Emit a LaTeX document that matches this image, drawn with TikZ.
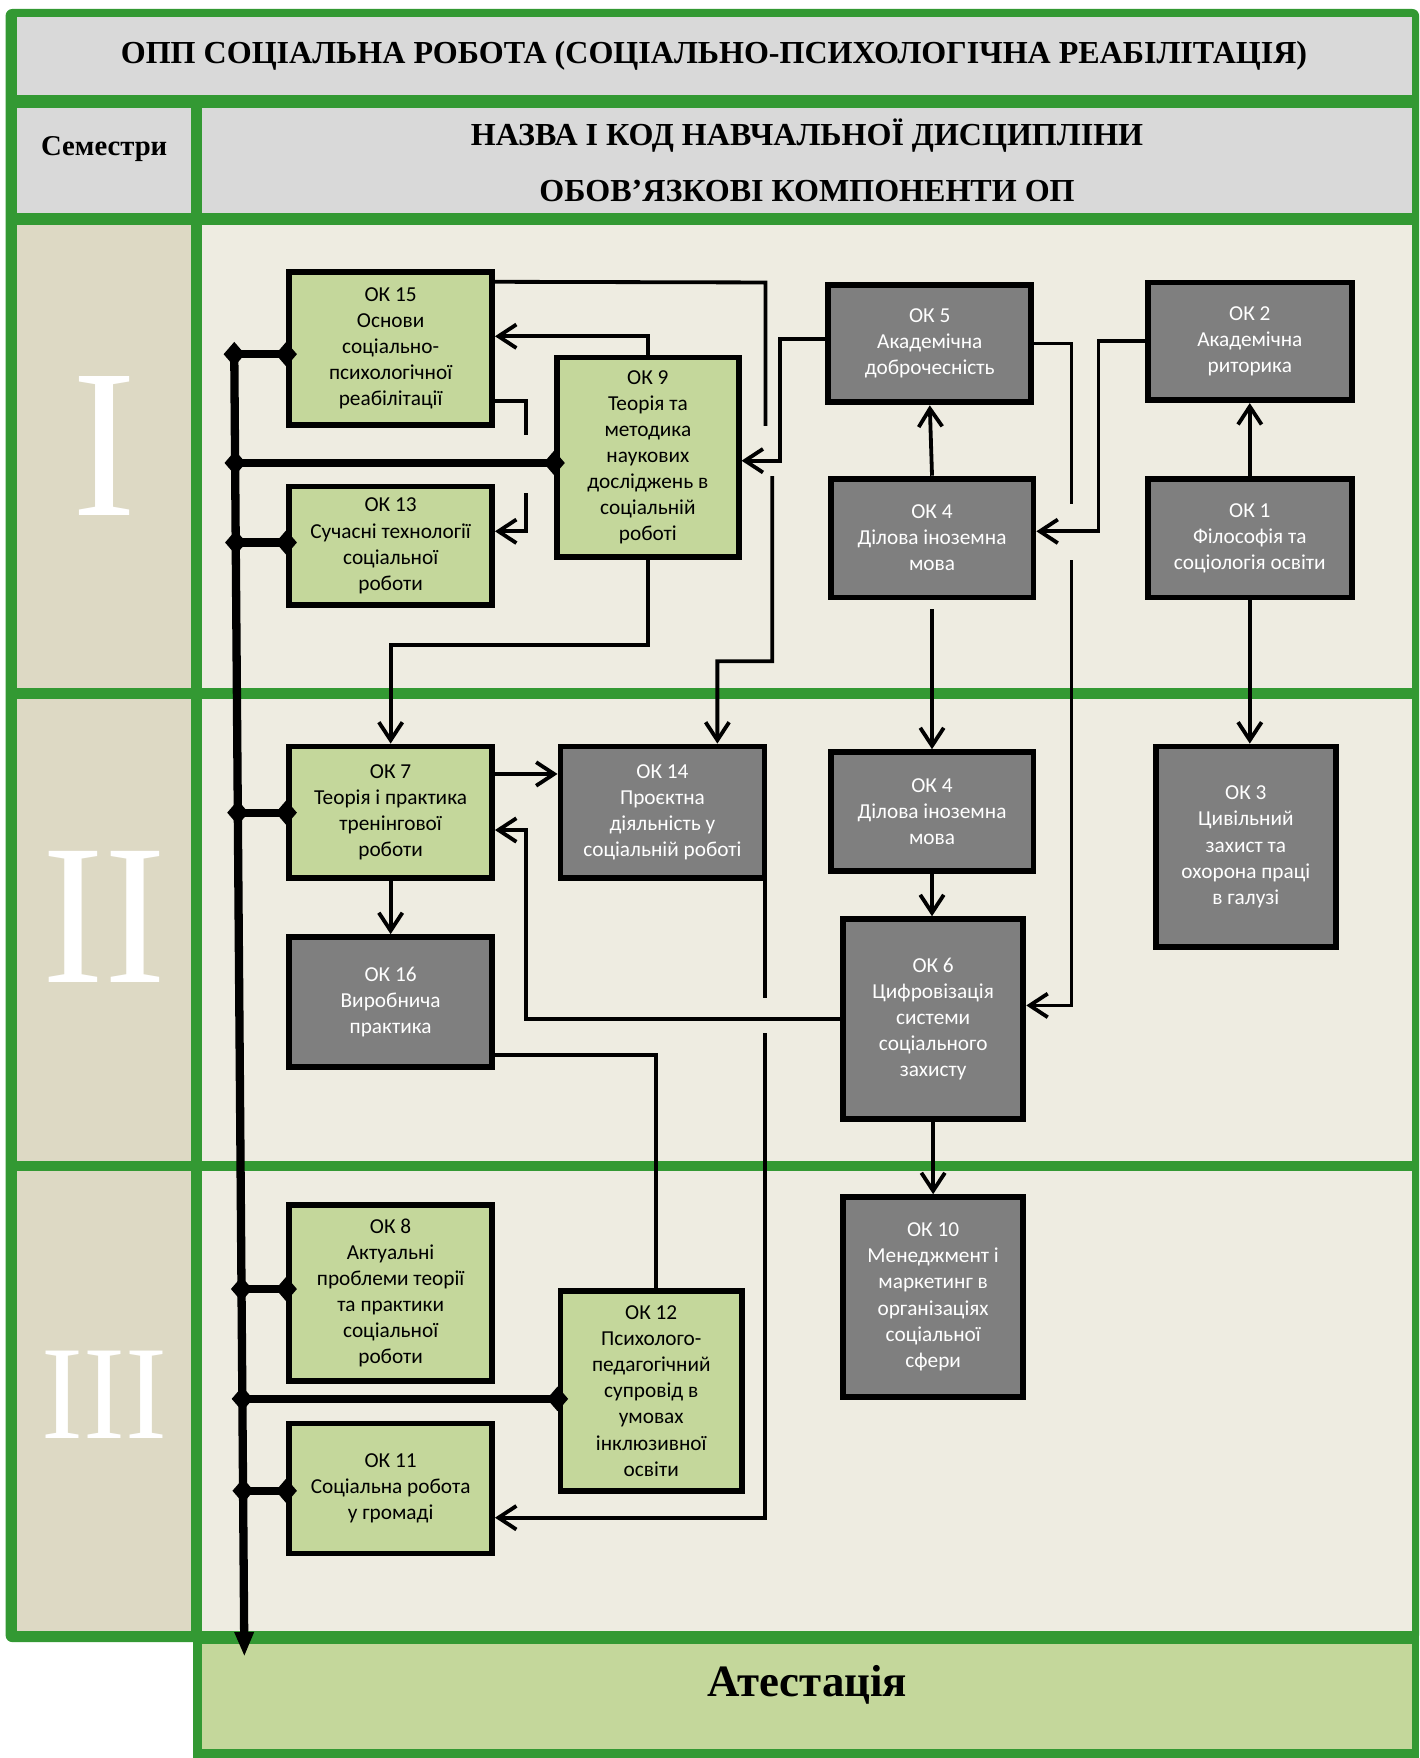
\documentclass[tikz,border=0pt]{standalone}
\usepackage{graphicx}
\usepackage{fontspec}
\setmainfont{Liberation Serif}
\newfontfamily\okfont{Carlito}
\usetikzlibrary{arrows.meta}
\definecolor{framegreen}{RGB}{51,153,51}
\definecolor{headgray}{RGB}{217,217,217}
\definecolor{semcol}{RGB}{221,217,196}
\definecolor{bodycol}{RGB}{238,236,225}
\definecolor{okgreen}{RGB}{196,215,155}
\definecolor{okgray}{RGB}{127,127,127}
\tikzset{
  oknode/.style = {align=center, inner sep=0pt, draw=black, line width=2.6pt,
    font=\okfont\fontsize{9.5}{11.65}\selectfont},
  g/.style = {oknode, fill=okgreen, text=black},% light box
  d/.style = {oknode, fill=okgray, text=white},% dark box
  link/.style = {line width=1.7pt},
  bus/.style = {line width=3.7pt, {Diamond[length=9.5pt,width=11pt]}-{Diamond[length=9.5pt,width=11pt]},
    shorten <=-4.75pt, shorten >=-4.75pt},
  jump/.style = {fill=bodycol},% gap where two links cross
  head/.style = {font=\bfseries\fontsize{14.3}{17}\selectfont}
}

\begin{document}
\begin{tikzpicture}[x=0.5pt, y=-0.5pt, >={Straight Barb[length=8pt,width=10.5pt]}]
\useasboundingbox (0,0) rectangle (1266,1568.4);

% frame and table
\fill[framegreen, rounded corners=3pt] (5,8) rectangle (1266,1465);
\fill[framegreen] (172,1455) rectangle (1266,1568.4);
\fill[headgray] (15,15) rectangle (1260,85);
\fill[headgray] (15,96) rectangle (170,190);
\fill[headgray] (180,96) rectangle (1260,190);
\foreach \top/\bot in {201/614, 624/1036, 1045/1455} {
  \fill[semcol] (15,\top) rectangle (170,\bot);
  \fill[bodycol] (180,\top) rectangle (1260,\bot);
}
\fill[okgreen] (180,1467) rectangle (1260,1560);

\node[head] (title) at (637,50) {ОПП СОЦІАЛЬНА РОБОТА (СОЦІАЛЬНО-ПСИХОЛОГІЧНА РЕАБІЛІТАЦІЯ)};
\node[head, font=\bfseries\fontsize{12.8}{15}\selectfont] (sem) at (93,133) {Семестри};
\node[head] (name) at (720,121) {НАЗВА І КОД НАВЧАЛЬНОЇ ДИСЦИПЛІНИ};
\node[head] (comp) at (720,170) {ОБОВ’ЯЗКОВІ КОМПОНЕНТИ ОП};
\node[font=\bfseries\fontsize{20}{24}\selectfont] (att) at (720,1503) {Атестація};

\node[text=white, inner sep=0pt] (s1) at (93,398) {\resizebox{28.5pt}{62pt}{I}};
\node[text=white, inner sep=0pt] (s2) at (93,818) {\resizebox{55pt}{58.5pt}{II}};
\node[text=white, inner sep=0pt] (s3) at (93,1244) {\resizebox{56pt}{39pt}{III}};

% semester I
\node[g, minimum width=90.5pt, minimum height=68pt] (ok15) at (348.5,311)
  {ОК 15\\Основи\\соціально-\\психологічної\\реабілітації};
\node[g, minimum width=81pt, minimum height=89pt] (ok9) at (578,408)
  {ОК 9\\Теорія та\\методика\\наукових\\досліджень в\\соціальній\\роботі};
\node[g, minimum width=90.5pt, minimum height=53pt] (ok13) at (348.5,487)
  {ОК 13\\Сучасні технології\\соціальної\\роботи};
\node[d, minimum width=90.5pt, minimum height=52.5pt] (ok5) at (829.5,306.5)
  {ОК 5\\Академічна\\доброчесність};
\node[d, minimum width=91pt, minimum height=52.5pt] (ok2) at (1115,304.5)
  {ОК 2\\Академічна\\риторика};
\node[d, minimum width=90.5pt, minimum height=53pt] (ok4a) at (831.5,480)
  {ОК 4\\Ділова іноземна\\мова};
\node[d, minimum width=91pt, minimum height=53pt] (ok1) at (1115,480)
  {ОК 1\\Філософія та\\соціологія освіти};

% semester II
\node[g, minimum width=90.5pt, minimum height=58.5pt] (ok7) at (348.5,724.5)
  {ОК 7\\Теорія і практика\\тренінгової\\роботи};
\node[d, minimum width=91pt, minimum height=58.5pt] (ok14) at (591,724.5)
  {ОК 14\\Проєктна\\діяльність у\\соціальній роботі};
\node[d, minimum width=90.5pt, minimum height=53pt] (ok4b) at (831.5,724)
  {ОК 4\\Ділова іноземна\\мова};
\node[d, minimum width=80.5pt, minimum height=89.5pt] (ok3) at (1111.5,755.5)
  {ОК 3\\Цивільний\\захист та\\охорона праці\\в галузі};
\node[d, minimum width=90.5pt, minimum height=58pt] (ok16) at (348.5,894)
  {ОК 16\\Виробнича\\практика};
\node[d, minimum width=80.5pt, minimum height=89pt] (ok6) at (832.5,909)
  {ОК 6\\Цифровізація\\системи\\соціального\\захисту};

% semester III
\node[d, minimum width=80.5pt, minimum height=89pt] (ok10) at (832.5,1157)
  {ОК 10\\Менеджмент і\\маркетинг в\\організаціях\\соціальної\\сфери};
\node[g, minimum width=90.5pt, minimum height=78.5pt] (ok8) at (348.5,1153.5)
  {ОК 8\\Актуальні\\проблеми теорії\\та практики\\соціальної\\роботи};
\node[g, minimum width=81pt, minimum height=89pt] (ok12) at (581,1241)
  {ОК 12\\Психолого-\\педагогічний\\супровід в\\умовах\\інклюзивної\\освіти};
\node[g, minimum width=90.5pt, minimum height=58pt] (ok11) at (348.5,1328)
  {ОК 11\\Соціальна робота\\у громаді};

% links with a gap
\draw[link,->] ([yshift=-5.5pt]ok15.north east) -- (683,252) -- (683,402) -- (689,402)
  -- (689,590) -- (640,590) -- ([xshift=24.5pt]ok14.north);
\draw[link,->] ([yshift=-23.5pt]ok15.east) -| (469,420) |- ([yshift=6.5pt]ok13.east);
\draw[link,->] (ok5.east) -| (956,600) |- ([yshift=6pt]ok6.east);
\draw[link,->] ([xshift=-1pt]ok14.south east) |- ([yshift=-13pt]ok11.east);
\fill[jump] (674,380) rectangle (693,425);
\fill[jump] (462,388) rectangle (476,440);
\fill[jump] (949,450) rectangle (963,500);
\fill[jump] (672,890) rectangle (690,922);

% other links
\draw[link,->] (ok9.north) |- ([yshift=5.5pt]ok15.east);
\draw[link,->] ([yshift=2pt]ok5.west) -| (696,360) |- ([yshift=-1.5pt]ok9.east);
\draw[link,->] (ok9.south) -- ++(0,76) -| (ok7.north);
\draw[link,->] (ok4a.north) -- (ok5.south);
\draw[link,->] (ok1.north) -- (ok2.south);
\draw[link,->] (ok2.west) -| (980,400) |- ([yshift=3pt]ok4a.east);
\draw[link,->,shorten <=4pt] (ok4a.south) -- (ok4b.north);
\draw[link,->] (ok1.south) -- (ok1.south |- ok3.north);
\draw[link,->] ([yshift=17pt]ok7.east) -- ([yshift=17pt]ok14.west);
\draw[link,->] (ok7.south) -- (ok16.north);
\draw[link,->] (ok4b.south) -- (ok4b.south |- ok6.north);
\draw[link,->] (ok6.west) -| (469,800) |- ([yshift=-8pt]ok7.east);
\draw[link] ([yshift=-23.5pt]ok16.east) -| ([xshift=2pt]ok12.north);
\draw[link,->] (ok6.south) -- (ok10.north);

% bus to attestation
\coordinate (busend) at (218,1478);
\coordinate (j15) at (209,316);
\coordinate (j9) at (209.8,413);
\coordinate (j13) at (210.3,484);
\coordinate (j7) at (212.2,725);
\coordinate (j8) at (215.5,1150);
\coordinate (j12) at (216.2,1248);
\coordinate (j11) at (216.9,1330);
\draw[line width=3.7pt, -{Triangle[length=11pt,width=8pt]}] (j15) -- (busend);
\foreach \j/\k in {j15/ok15, j9/ok9, j13/ok13, j7/ok7, j8/ok8, j12/ok12, j11/ok11}
  \draw[bus] (\j) -- (\j -| \k.west);
\end{tikzpicture}
\end{document}
